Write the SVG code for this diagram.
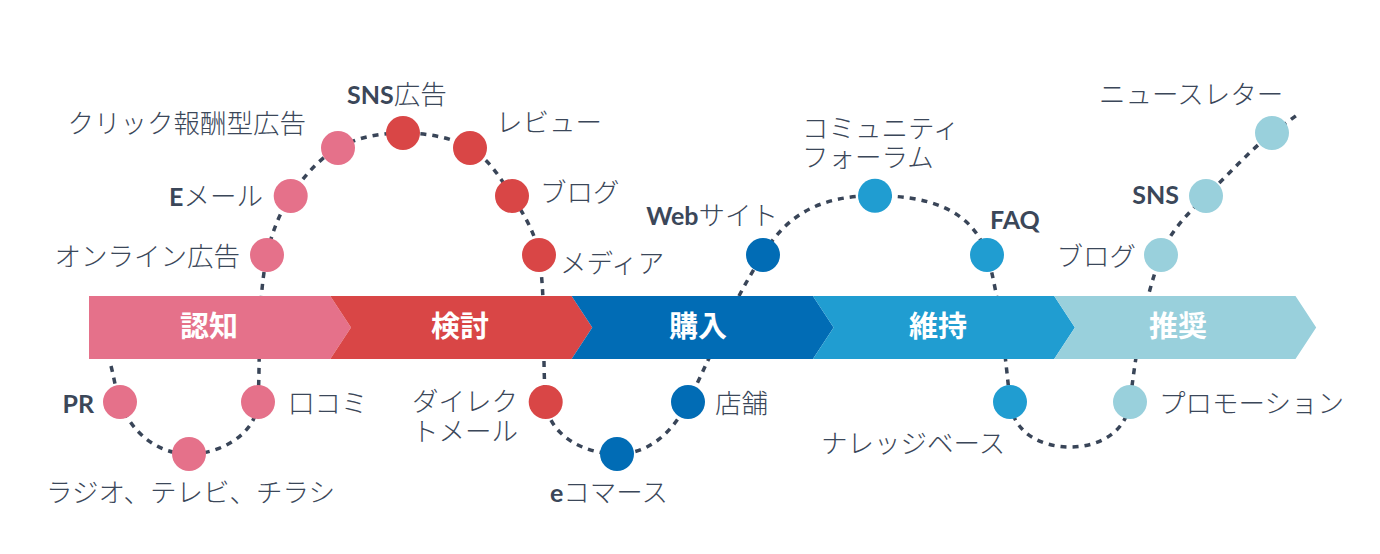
<svg xmlns="http://www.w3.org/2000/svg" width="1380" height="554" viewBox="0 0 1380 554">
<style>
.lbl{font-family:"Noto Sans CJK JP","Noto Sans",sans-serif;font-size:26.5px;fill:#3b4759;font-weight:300}
.b{font-family:Lato,"Noto Sans CJK JP",sans-serif;font-weight:700;font-size:25px}
.stage{font-family:"Noto Sans CJK JP","Noto Sans",sans-serif;font-size:29px;fill:#ffffff;font-weight:700;text-anchor:middle}
.conn{fill:none;stroke:#394558;stroke-width:3.5;stroke-dasharray:6 6}
.c1{fill:#e5718a}.c2{fill:#d94646}.c3{fill:#016cb5}.c4{fill:#209dd1}.c5{fill:#99d0dc}
</style>
<rect width="1380" height="554" fill="#ffffff"/>
<g id="connectors">
<path class="conn" d="M111,366 C114.2,378 115.7,390.4 120,402 C131,432 157,454 189,454 C221,454 256.4,434 258,402 C260.5,353 257.2,303 267,255 C271.2,234.4 279.2,213.4 290.7,196 C303.1,177.3 318.4,159 338,148 C357.3,137.1 380.8,133 403,133 C425.9,133 450.1,136.8 470,148 C488.5,158.4 500.5,178.1 512,196 C523.7,214.1 535.8,233.6 539,255 C546.4,303.5 541.8,353 545.7,402 C548.3,435 584,454 617,454 C650,454 673.1,431.4 688,402 C712.8,353 732.8,300.4 763,255 C788,211.5 825,195.7 875,195.7 C925,195.7 972,207.5 987,255 C999,293 1006,362.2 1010,402 C1013,431.9 1040,447 1070,447 C1100,447 1126.4,431.7 1130,402 C1136,352.5 1143.5,302 1161,255 C1169.6,231.8 1188.2,213 1206,196 C1227.6,175.3 1248.6,151.9 1272,133 L1297,115"/>
</g>
<g id="stage-awareness">
<polygon class="c1" points="89,296 330.3,296 351,327.5 330.3,359 89,359"/>
<text class="stage" x="209" y="337">認知</text>
</g>
<g id="stage-consideration">
<polygon class="c2" points="330.3,296 571.6,296 592.3,327.5 571.6,359 330.3,359 351,327.5"/>
<text class="stage" x="460" y="337">検討</text>
</g>
<g id="stage-purchase">
<polygon class="c3" points="571.6,296 812.9,296 833.6,327.5 812.9,359 571.6,359 592.3,327.5"/>
<text class="stage" x="698" y="337">購入</text>
</g>
<g id="stage-retention">
<polygon class="c4" points="812.9,296 1054.2,296 1074.9,327.5 1054.2,359 812.9,359 833.6,327.5"/>
<text class="stage" x="938" y="337">維持</text>
</g>
<g id="stage-advocacy">
<polygon class="c5" points="1054.2,296 1295.5,296 1316.2,327.5 1295.5,359 1054.2,359 1074.9,327.5"/>
<text class="stage" x="1178" y="337">推奨</text>
</g>
<g id="n-pr"><circle class="c1" cx="120" cy="402" r="17"/><text class="lbl b" x="94" y="413" text-anchor="end">PR</text></g>
<g id="n-radio"><circle class="c1" cx="189" cy="454" r="17"/><text class="lbl" x="190.5" y="502" text-anchor="middle">ラジオ、テレビ、チラシ</text></g>
<g id="n-kuchikomi"><circle class="c1" cx="258" cy="402" r="17"/><text class="lbl" x="288" y="413">口コミ</text></g>
<g id="n-online-ad"><circle class="c1" cx="267" cy="255" r="17"/><text class="lbl" x="240" y="265.5" text-anchor="end">オンライン広告</text></g>
<g id="n-email"><circle class="c1" cx="290.7" cy="196" r="17"/><text class="lbl" x="263" y="205.5" text-anchor="end"><tspan class="b">E</tspan>メール</text></g>
<g id="n-click-ad"><circle class="c1" cx="338" cy="148" r="17"/><text class="lbl" x="306" y="132.5" text-anchor="end">クリック報酬型広告</text></g>
<g id="n-sns-ad"><circle class="c2" cx="403" cy="133" r="17"/><text class="lbl" x="347" y="104"><tspan class="b">SNS</tspan>広告</text></g>
<g id="n-review"><circle class="c2" cx="470" cy="148" r="17"/><text class="lbl" x="496" y="132">レビュー</text></g>
<g id="n-blog1"><circle class="c2" cx="512" cy="196" r="17"/><text class="lbl" x="540" y="202">ブログ</text></g>
<g id="n-media"><circle class="c2" cx="539" cy="255" r="17"/><text class="lbl" x="560" y="273">メディア</text></g>
<g id="n-dm"><circle class="c2" cx="545.7" cy="402" r="17"/><text class="lbl" x="412" y="410.5">ダイレク<tspan x="412" dy="30">トメール</tspan></text></g>
<g id="n-ecommerce"><circle class="c3" cx="617" cy="454" r="17"/><text class="lbl" x="550" y="502"><tspan class="b">e</tspan>コマース</text></g>
<g id="n-store"><circle class="c3" cx="688" cy="402" r="17"/><text class="lbl" x="715" y="413">店舗</text></g>
<g id="n-website"><circle class="c3" cx="763" cy="255" r="17"/><text class="lbl" x="778" y="225" text-anchor="end"><tspan class="b">Web</tspan>サイト</text></g>
<g id="n-community"><circle class="c4" cx="875" cy="195.7" r="17"/><text class="lbl" x="802" y="137.5">コミュニティ<tspan x="802" dy="29">フォーラム</tspan></text></g>
<g id="n-faq"><circle class="c4" cx="987" cy="255" r="17"/><text class="lbl b" x="990" y="229">FAQ</text></g>
<g id="n-kb"><circle class="c4" cx="1010" cy="402" r="17"/><text class="lbl" x="821" y="453">ナレッジベース</text></g>
<g id="n-promotion"><circle class="c5" cx="1130" cy="402" r="17"/><text class="lbl" x="1159" y="412.5">プロモーション</text></g>
<g id="n-blog2"><circle class="c5" cx="1161" cy="255" r="17"/><text class="lbl" x="1136" y="265.5" text-anchor="end">ブログ</text></g>
<g id="n-sns"><circle class="c5" cx="1206" cy="196" r="17"/><text class="lbl b" x="1179" y="204" text-anchor="end">SNS</text></g>
<g id="n-newsletter"><circle class="c5" cx="1272" cy="133" r="17"/><text class="lbl" x="1099" y="103.5">ニュースレター</text></g>
</svg>
